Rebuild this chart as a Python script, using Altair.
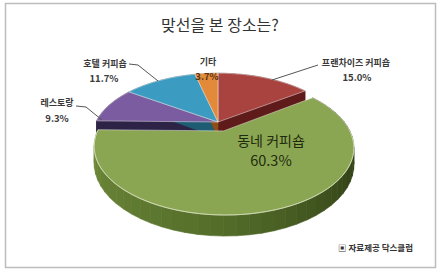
import altair as alt
import pandas as pd

# ---------------- data ----------------
categories = ["프랜차이즈 커피숍", "동네 커피숍", "레스토랑", "호텔 커피숍", "기타"]
shares = [15.0, 60.3, 9.3, 11.7, 3.7]
title_text = "맞선을 본 장소는?"
source_text = "▣ 자료제공 닥스클럽"

# ---------------- style ----------------
FONT = "Noto Sans CJK KR"
top_colors = ["#A8433F", "#8BA652", "#7B5CA0", "#3B9BC0", "#E2893A"]
side_colors = ["#5E1B1A", "#5E7830", "#2D2346", "#1E5C73", "#8F4E16"]
big_side_shades = ["#27330F", "#364619", "#56702B", "#748F3E"]
front_gradient = alt.LinearGradient(
    gradient="linear",
    stops=[
        alt.GradientStop(color="#7C9843", offset=0),
        alt.GradientStop(color="#627E33", offset=0.45),
        alt.GradientStop(color="#3F5121", offset=0.8),
        alt.GradientStop(color="#2B3812", offset=1),
    ],
    x1=0, x2=1, y1=0, y2=0,
)

# ---------------- layout ----------------
W, H = 440, 271
CX, CY = 218, 122      # pie centre (px)
RX, RY = 122, 60       # projected radii (px)
K = 0.23               # perspective strength
THICK = 15.5           # pie thickness (px)
EXPLODE = 0.15
N = 60
M = 48                 # shading strips on the big slice's side
explode_idx = shares.index(max(shares))

xs = alt.Scale(domain=[-CX / RX, (W - CX) / RX], nice=False, zero=False)
ys = alt.Scale(domain=[-CY / RY, (H - CY) / RY], nice=False, zero=False, reverse=True)


def table(tag):
    # each layer gets its own copy of the table so that no layer shares rows with another
    return pd.DataFrame({"cat": categories, "share": shares,
                         "idx": list(range(len(categories))), "part": tag})


def pie_base(tag, flt=None):
    c = (
        alt.Chart(table(tag))
        .transform_window(cum="sum(share)", sort=[alt.SortField("idx")], frame=[None, 0])
        .transform_joinaggregate(total="sum(share)")
        .transform_calculate(a0="2*PI*(datum.cum-datum.share)/datum.total")
        .transform_calculate(a1="2*PI*datum.cum/datum.total")
        .transform_calculate(mid="(datum.a0+datum.a1)/2")
        .transform_calculate(eu=f"datum.idx=={explode_idx} ? {EXPLODE}*sin(datum.mid) : 0")
        .transform_calculate(ev=f"datum.idx=={explode_idx} ? {-EXPLODE}*cos(datum.mid) : 0")
    )
    if flt is not None:
        c = c.transform_filter(flt)
    return c


def project(c):
    return (
        c.transform_calculate(u="datum.r*sin(datum.th)+datum.eu")
        .transform_calculate(v="-datum.r*cos(datum.th)+datum.ev")
        .transform_calculate(w=f"1-{K}*datum.v")
        .transform_calculate(X="datum.u/datum.w")
        .transform_calculate(Y=f"(datum.v + datum.d*{THICK / RY})/datum.w")
    )


def wedge(c, drop):
    c = (
        c.transform_calculate(k=f"sequence(0,{N + 2})")
        .transform_flatten(["k"])
        .transform_calculate(r="datum.k==0 ? 0 : 1")
        .transform_calculate(th=f"datum.a0 + max(datum.k-1,0)/{N}*(datum.a1-datum.a0)")
        .transform_calculate(d=str(drop))
        .transform_calculate(gid="datum.cat")
    )
    return project(c)


def band(c):
    c = (
        c.transform_calculate(k=f"sequence(0,{2 * N + 2})")
        .transform_flatten(["k"])
        .transform_calculate(r="1")
        .transform_calculate(t=f"datum.k<={N} ? datum.k/{N} : ({2 * N + 1}-datum.k)/{N}")
        .transform_calculate(th="datum.a0 + datum.t*(datum.a1-datum.a0)")
        .transform_calculate(d=f"datum.k<={N} ? 0 : 1")
        .transform_calculate(gid="datum.cat + '-band'")
    )
    return project(c)


def strips(c):
    # side of a slice cut into M strips, so each strip can take its own shade
    c = (
        c.transform_calculate(p=f"sequence(0,{M})")
        .transform_flatten(["p"])
        .transform_calculate(k="sequence(0,4)")
        .transform_flatten(["k"])
        .transform_calculate(r="1")
        .transform_calculate(t=f"(datum.p + ((datum.k==1 || datum.k==2) ? 1.02 : 0))/{M}")
        .transform_calculate(th="datum.a0 + min(datum.t,1)*(datum.a1-datum.a0)")
        .transform_calculate(d="datum.k>=2 ? 1 : 0")
        .transform_calculate(gid="datum.cat + '-s' + datum.p")
    )
    return project(c)


def walls(c):
    c = (
        c.transform_calculate(p="[0,1]")
        .transform_flatten(["p"])
        .transform_calculate(k="sequence(0,4)")
        .transform_flatten(["k"])
        .transform_calculate(r="(datum.k==1 || datum.k==2) ? 1 : 0")
        .transform_calculate(d="datum.k>=2 ? 1 : 0")
        .transform_calculate(th="datum.p==0 ? datum.a0 : datum.a1")
        .transform_calculate(gid="datum.cat + '-w' + datum.p")
    )
    return project(c)


def front_side(c):
    # front wall of a slice (the part of its rim facing the viewer), as an area
    c = (
        c.transform_calculate(k=f"sequence(0,{N + 1})")
        .transform_flatten(["k"])
        .transform_calculate(lo="max(datum.a0, PI/2)")
        .transform_calculate(hi="min(datum.a1, 3*PI/2)")
        .transform_calculate(r="1")
        .transform_calculate(th=f"datum.lo + datum.k/{N}*(datum.hi-datum.lo)")
        .transform_calculate(d="0")
    )
    c = project(c).transform_calculate(Y2=f"(datum.v + {THICK / RY})/datum.w")
    return c


def pos_enc():
    return dict(
        x=alt.X("X:Q", scale=xs, axis=None),
        y=alt.Y("Y:Q", scale=ys, axis=None),
        order=alt.Order("k:Q"),
        detail="gid:N",
    )


def draw(c, fill_range=None, stroke_range=None, **mark_kw):
    enc = pos_enc()
    if fill_range is not None:
        enc["fill"] = alt.Fill("cat:N", scale=alt.Scale(domain=categories, range=fill_range), legend=None)
    if stroke_range is not None:
        enc["stroke"] = alt.Stroke("cat:N", scale=alt.Scale(domain=categories, range=stroke_range), legend=None)
    return c.mark_line(interpolate="linear-closed", **mark_kw).encode(**enc)


not_big = f"datum.idx != {explode_idx}"
is_big = f"datum.idx == {explode_idx}"

side_layers = [
    draw(walls(pie_base("walls", not_big)), side_colors, side_colors, strokeWidth=0.6),
    draw(band(pie_base("band", not_big)), side_colors, side_colors, strokeWidth=0.6),
    draw(wedge(pie_base("bottom", not_big), 1), side_colors, side_colors, strokeWidth=0.6),
]

shade_scale = alt.Scale(domain=[0, 0.3 * M, 0.6 * M, M], range=big_side_shades)
big_enc = pos_enc()
big_enc["fill"] = alt.Fill("p:Q", scale=shade_scale, legend=None)
big_enc["stroke"] = alt.Stroke("p:Q", scale=shade_scale, legend=None)
big_side_back = strips(pie_base("strips", is_big)).mark_line(
    interpolate="linear-closed", strokeWidth=0.6).encode(**big_enc)

tops = draw(wedge(pie_base("top"), 0), top_colors, None,
            stroke="#f2f2f2", strokeOpacity=0.6, strokeWidth=0.8)

big_front = front_side(pie_base("front", is_big)).mark_area(
    fill=front_gradient, stroke="#C9D6A8", strokeWidth=0.0
).encode(
    x=alt.X("X:Q", scale=xs, axis=None),
    y=alt.Y("Y:Q", scale=ys, axis=None),
    y2="Y2:Q",
    order=alt.Order("k:Q"),
)
front_edge = front_side(pie_base("edge", is_big)).mark_line(
    color="#D3DEB3", strokeWidth=0.9, opacity=0.8
).encode(
    x=alt.X("X:Q", scale=xs, axis=None),
    y=alt.Y("Y:Q", scale=ys, axis=None),
    order=alt.Order("k:Q"),
)

# frame and title
one = alt.Data(values=[{"o": 1}])
frame = alt.Chart(one).mark_rect(fill="white", stroke="#bdbdbd", strokeWidth=1.5).encode(
    x=alt.value(5.5), x2=alt.value(435.5), y=alt.value(3.5), y2=alt.value(267.5)
)
title = alt.Chart(one).mark_text(font=FONT, fontSize=16, color="#333333").encode(
    x=alt.value(220), y=alt.value(26), text=alt.value(title_text)
)
source = alt.Chart(one).mark_text(font=FONT, fontSize=8.5, fontWeight="bold", color="#333333", align="right").encode(
    x=alt.value(413), y=alt.value(248), text=alt.value(source_text)
)

# labels: (name x, name y, pct x, pct y, size, name colour, pct colour)
label_layout = {
    "프랜차이즈 커피숍": (356, 63, 357, 78, 9, "#3a3a3a", "#3a3a3a"),
    "기타": (208, 62, 207, 77, 9, "#3a3a3a", "#5a3412"),
    "호텔 커피숍": (105, 64, 104, 79, 9, "#3a3a3a", "#3a3a3a"),
    "레스토랑": (57, 103, 57, 119, 9, "#3a3a3a", "#3a3a3a"),
    "동네 커피숍": (271, 142, 271, 162, 14, "#1f2a0f", "#1f2a0f"),
}
label_layers = []
for cat, (nx, ny, px, py, fs, c1, c2) in label_layout.items():
    base = alt.Chart(table("label")).transform_filter(alt.datum.cat == cat).transform_calculate(
        pct="format(datum.share, '.1f') + '%'"
    )
    wt = "normal" if fs > 10 else "bold"
    label_layers.append(base.mark_text(font=FONT, fontSize=fs, fontWeight=wt, color=c1).encode(
        x=alt.value(nx), y=alt.value(ny), text="cat:N"))
    label_layers.append(base.mark_text(font=FONT, fontSize=fs + 0.5, fontWeight=wt, color=c2).encode(
        x=alt.value(px), y=alt.value(py), text="pct:N"))

leader_segments = [
    (318, 65, 272, 80),
    (129, 64, 138, 65), (138, 65, 158, 81),
    (76, 106, 86, 107), (86, 107, 102, 120),
]
leaders = [
    alt.Chart(one).mark_rule(color="#555555", strokeWidth=1).encode(
        x=alt.value(a), y=alt.value(b), x2=alt.value(c), y2=alt.value(d))
    for a, b, c, d in leader_segments
]

chart = (
    alt.layer(frame, title, *side_layers, big_side_back, tops, big_front, front_edge,
              *leaders, *label_layers, source)
    .resolve_scale(fill="independent", stroke="independent")
    .properties(width=W, height=H, padding=0, autosize="none")
    .configure_view(stroke=None)
)

chart.save("out.html", embed_options={"renderer": "svg", "actions": False})
